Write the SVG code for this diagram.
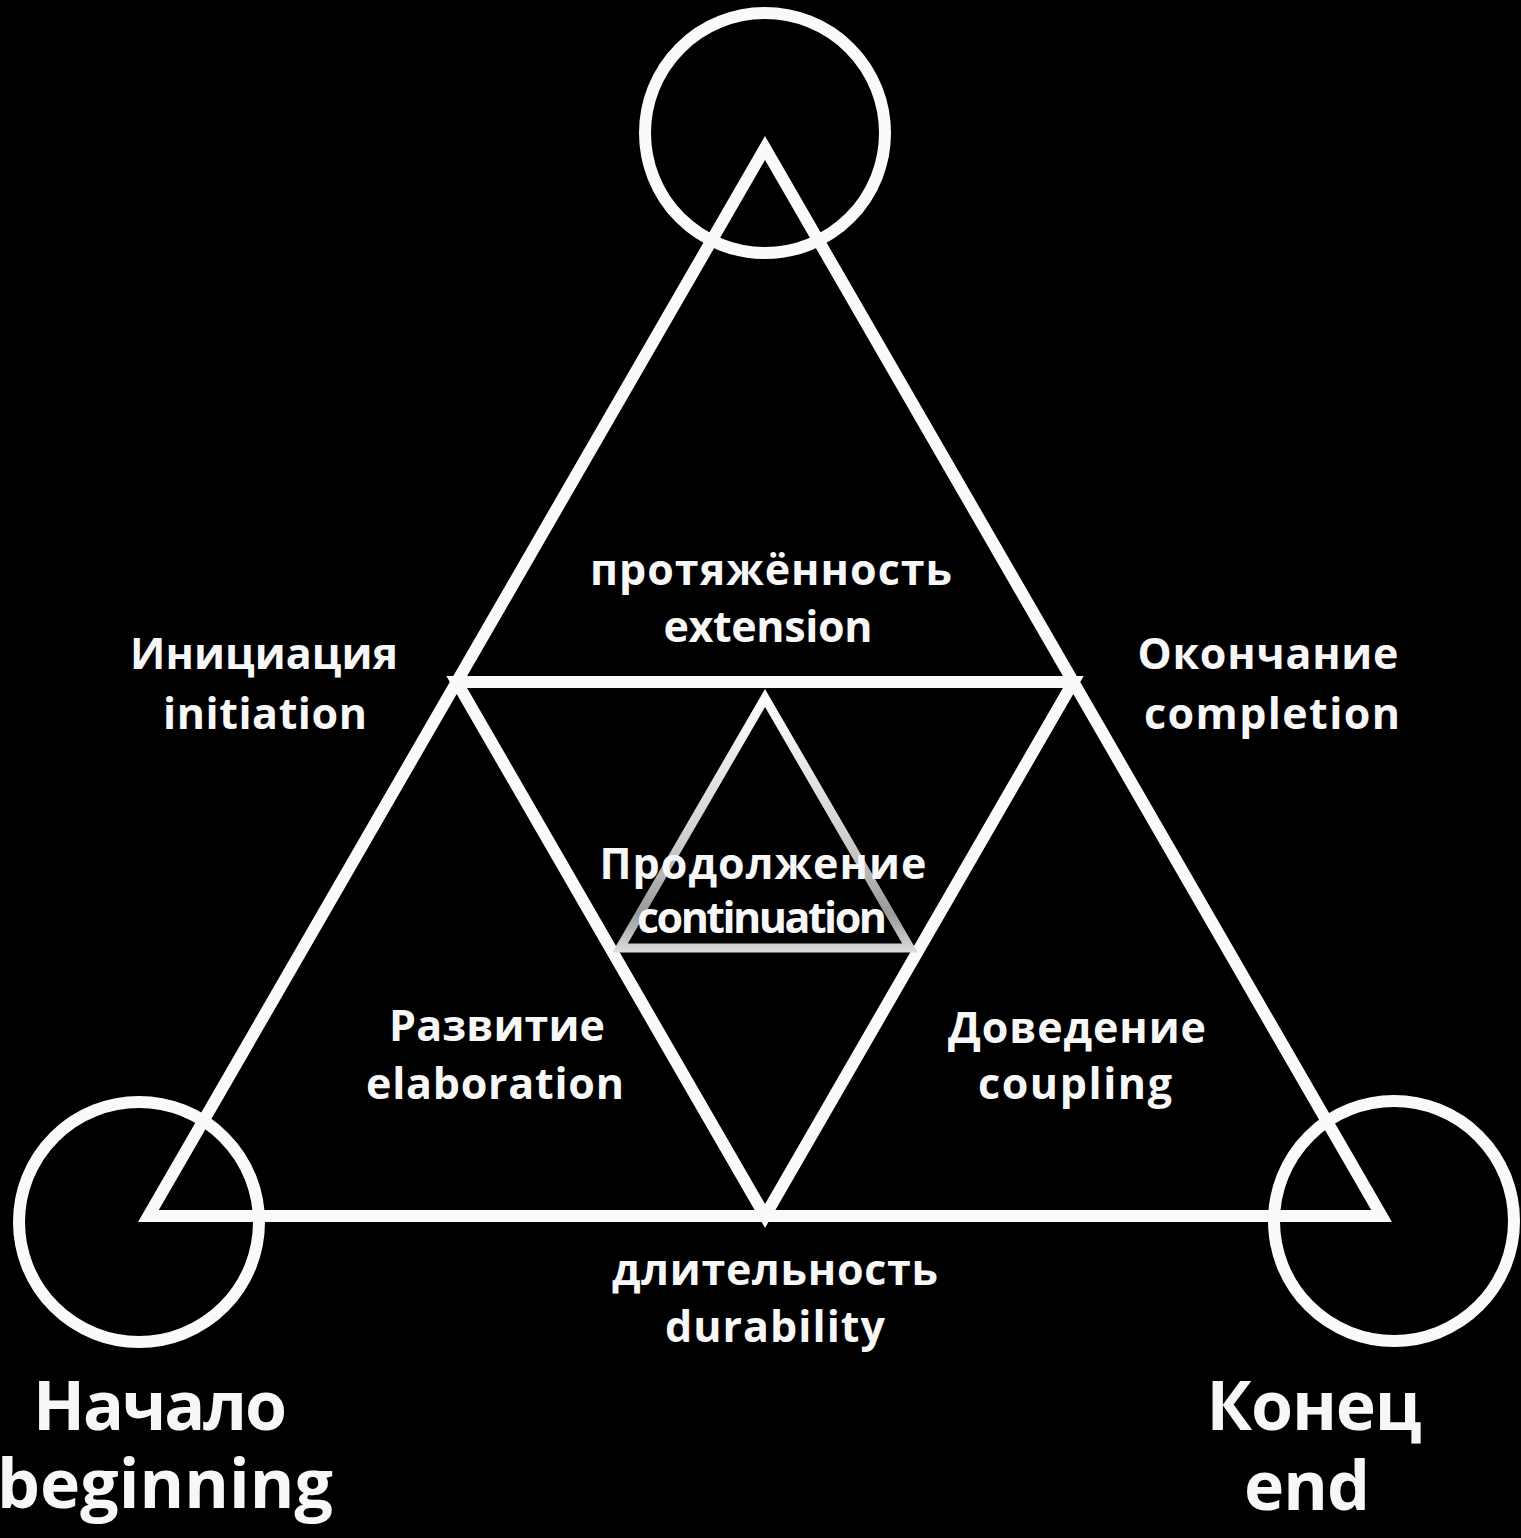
<svg xmlns="http://www.w3.org/2000/svg" width="1521" height="1538" viewBox="0 0 1521 1538">
<style>
.ln{fill:none;stroke:#fafafa;stroke-width:12;stroke-linejoin:miter;stroke-miterlimit:10}
.t{fill:#f7f7f7;font-family:"Open Sans","Noto Sans","DejaVu Sans",sans-serif;font-weight:700;text-anchor:middle}
.m{font-size:43px}
.b{font-size:68px}
</style>
<defs>
<linearGradient id="g" x1="0" y1="696" x2="0" y2="952" gradientUnits="userSpaceOnUse">
<stop offset="0" stop-color="#ffffff"/>
<stop offset="0.55" stop-color="#d0d0d0"/>
<stop offset="0.85" stop-color="#9a9a9a"/>
<stop offset="1" stop-color="#dcdcdc"/>
</linearGradient>
</defs>
<rect width="1521" height="1538" fill="#000"/>
<g id="circle-top"><circle cx="765" cy="133" r="120" class="ln"/></g>
<g id="circle-beginning"><circle cx="139" cy="1222" r="120" class="ln"/></g>
<g id="circle-end"><circle cx="1394" cy="1221" r="120" class="ln"/></g>
<g id="connectors">
<polygon points="765,148 1381.6,1216 148.4,1216" class="ln"/>
<polygon points="456.7,682 1073.3,682 765,1216" class="ln"/>
<polygon points="765,698 910,948 620,948" fill="none" stroke="url(#g)" stroke-width="9" stroke-linejoin="miter"/>
</g>
<g id="extension"><text class="t m" x="771" y="585" textLength="362">протяжённость</text><text class="t m" x="768" y="642" textLength="209">extension</text></g>
<g id="initiation"><text class="t m" x="264" y="669" textLength="268">Инициация</text><text class="t m" x="265" y="729" textLength="204">initiation</text></g>
<g id="completion"><text class="t m" x="1268" y="669" textLength="261">Окончание</text><text class="t m" x="1272" y="729" textLength="256">completion</text></g>
<g id="continuation"><text class="t m" x="763" y="879" textLength="327">Продолжение</text><text class="t m" x="762" y="933" textLength="250">continuation</text></g>
<g id="elaboration"><text class="t m" x="497" y="1041" textLength="216">Развитие</text><text class="t m" x="495" y="1099" textLength="258">elaboration</text></g>
<g id="coupling"><text class="t m" x="1077" y="1043" textLength="258">Доведение</text><text class="t m" x="1075" y="1099" textLength="194">coupling</text></g>
<g id="durability"><text class="t m" x="775" y="1285" textLength="326">длительность</text><text class="t m" x="775" y="1342" textLength="220">durability</text></g>
<g id="beginning"><text class="t b" x="160" y="1430" textLength="254">Начало</text><text class="t b" x="165" y="1508" textLength="336">beginning</text></g>
<g id="end"><text class="t b" x="1314" y="1430" textLength="215">Конец</text><text class="t b" x="1307" y="1510" textLength="126">end</text></g>
</svg>
